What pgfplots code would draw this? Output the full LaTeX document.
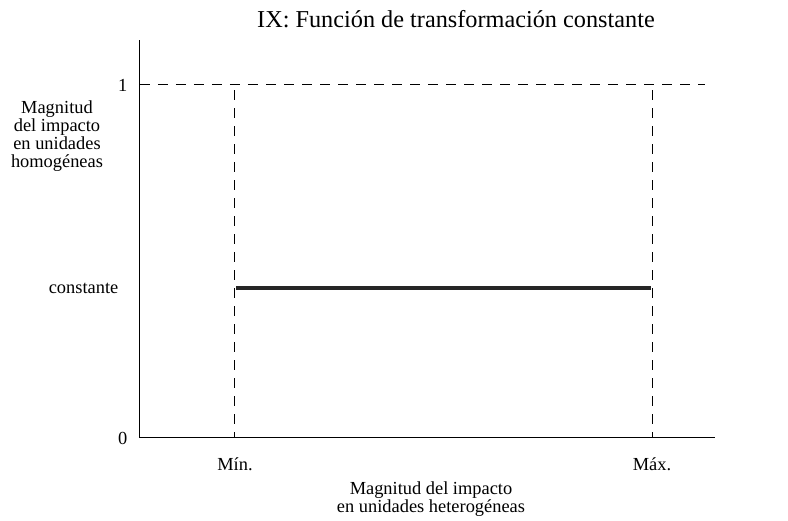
\documentclass[border=0pt]{standalone}
\usepackage{pgfplots}
\pgfplotsset{compat=1.18}
\usepackage{fontspec}
\setmainfont{Liberation Serif}
\begin{document}
\begin{tikzpicture}
\begin{axis}[
  scale only axis,
  width=431.25pt, height=298.5pt,
  xmin=0, xmax=575, ymin=0, ymax=1.1275,
  axis x line=bottom, axis y line=left,
  axis line style={-, line width=0.75pt},
  clip=false,
  major tick length=0pt,
  xtick={95,512}, xticklabels={Mín.,Máx.},
  ytick={0,0.425,1}, yticklabels={0,{constante\rule{6.75pt}{0pt}},1},
  /pgf/number format/assume math mode=true,
  ticklabel style={font=\fontsize{13.8}{14}\selectfont},
  xticklabel style={yshift=-11.5pt},
  yticklabel style={xshift=-6pt},
]
\addplot[black, line width=0.75pt, dash pattern=on 7.5pt off 6pt] coordinates {(0,1) (565,1)};
\addplot[black, line width=0.75pt, dash pattern=on 7.5pt off 6pt] coordinates {(95,0.985) (95,0)};
\addplot[black, line width=0.75pt, dash pattern=on 7.5pt off 6pt] coordinates {(512,0.985) (512,0)};
\addplot[black!85, line width=3pt] coordinates {(96,0.425) (511,0.425)};
\node[anchor=base, font=\fontsize{18.2}{18.2}\selectfont] at (axis cs:316,1.1615) {IX: Función de transformación constante};
\node[align=center, font=\fontsize{13.8}{13.5}\selectfont] at (axis cs:-83,0.8555) {Magnitud\\del impacto\\en unidades\\homogéneas};
\node[align=center, font=\fontsize{13.8}{12.5}\selectfont] at (axis cs:291,-0.1727) {Magnitud del impacto\\en unidades heterogéneas};
\path (axis cs:-140,-0.2125) rectangle (axis cs:648,1.2408);
\end{axis}
\end{tikzpicture}
\end{document}
